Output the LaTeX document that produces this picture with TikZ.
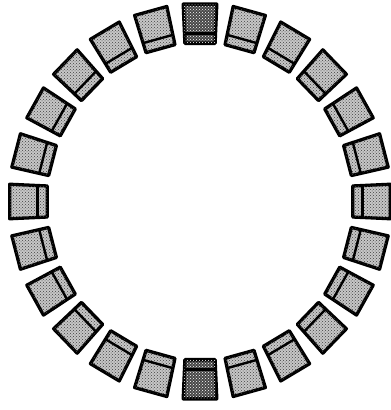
\documentclass[tikz,border=0pt]{standalone}
\usetikzlibrary{patterns}
\begin{document}
\begin{tikzpicture}[x=1pt,y=1pt,
  blockbox/.style={draw=black,line width=3.3pt,line join=round,fill=black!22,
    postaction={pattern=crosshatch dots,pattern color=black!75}},
  darkbox/.style={draw=black,line width=3.6pt,line join=round,fill=black!72,
    postaction={pattern=crosshatch dots,pattern color=white}},
  divider/.style={draw=black,line width=2.4pt},
  darkdivider/.style={draw=black,line width=3.2pt}]
\useasboundingbox (0,0) rectangle (391,410);
\begin{scope}[shift={(200,208.5)},xscale=0.965]
\foreach \k in {0,...,23}{
  \pgfmathsetmacro\a{90-15*\k}
  \ifnum\k=0 \def\bs{darkbox}\def\ds{darkdivider}\else\ifnum\k=12 \def\bs{darkbox}\def\ds{darkdivider}\else\def\bs{blockbox}\def\ds{divider}\fi\fi
  \draw[\bs] ({\a-5}:198) -- ({\a+5}:198) -- ({\a+5.6}:159) -- ({\a-5.6}:159) -- cycle;
  \draw[\ds] ({\a+5.4}:169) -- ({\a-5.4}:169);
}
\end{scope}
\end{tikzpicture}
\end{document}
